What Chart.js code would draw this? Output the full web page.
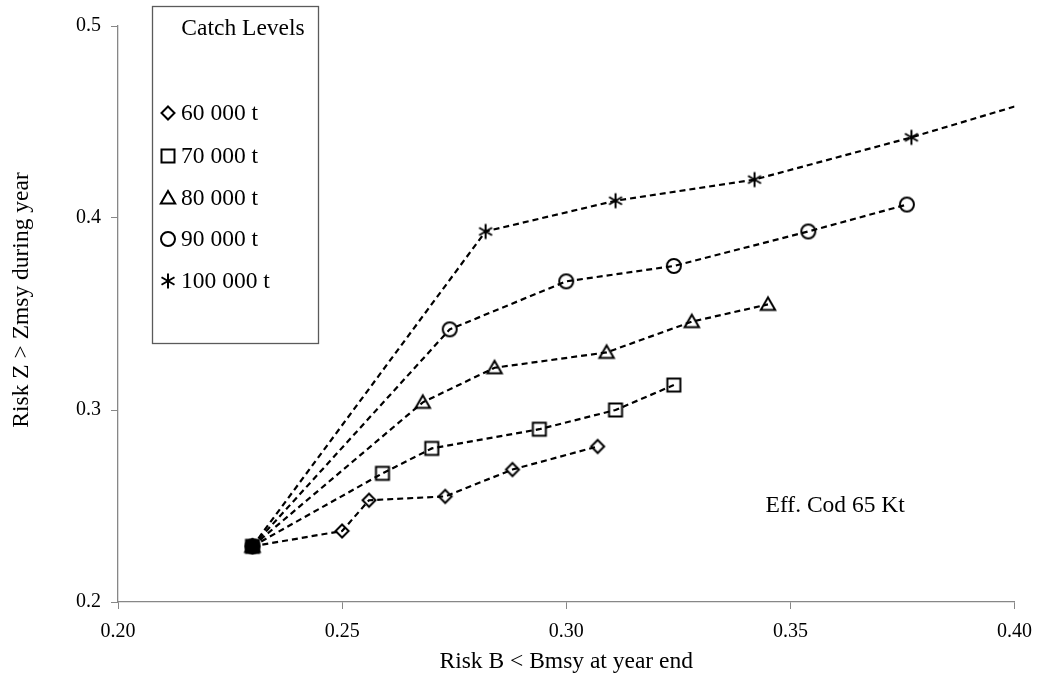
<!DOCTYPE html>
<html>
<head>
<meta charset="utf-8">
<script src="https://cdn.jsdelivr.net/npm/chart.js@4.4.0/dist/chart.umd.min.js"></script>
<style>
  html, body { margin: 0; padding: 0; background: #fff; }
  #wrap { width: 1043px; height: 677px; position: relative; }
</style>
</head>
<body>
<div id="wrap"><canvas id="chart" width="1043" height="677"></canvas></div>
<script>
// Catch levels and the risk pairs for each (x: risk B < Bmsy, y: risk Z > Zmsy)
const catchLevels = ['60 000 t', '70 000 t', '80 000 t', '90 000 t', '100 000 t'];

const bRisk60  = [0.230, 0.250, 0.256, 0.273, 0.288, 0.307];
const zRisk60  = [0.229, 0.237, 0.253, 0.255, 0.269, 0.281];

const bRisk70  = [0.230, 0.259, 0.270, 0.294, 0.311, 0.324];
const zRisk70  = [0.229, 0.267, 0.280, 0.290, 0.300, 0.313];

const bRisk80  = [0.230, 0.268, 0.284, 0.309, 0.328, 0.345];
const zRisk80  = [0.229, 0.304, 0.322, 0.330, 0.346, 0.355];

const bRisk90  = [0.230, 0.274, 0.300, 0.324, 0.354, 0.376];
const zRisk90  = [0.229, 0.342, 0.367, 0.375, 0.393, 0.407];

const bRisk100 = [0.230, 0.282, 0.311, 0.342, 0.377, 0.410];
const zRisk100 = [0.229, 0.393, 0.409, 0.420, 0.442, 0.465];

const xTickValues = [0.20, 0.25, 0.30, 0.35, 0.40];
const yTickValues = [0.2, 0.3, 0.4, 0.5];

const xTitle = 'Risk B < Bmsy at year end';
const yTitle = 'Risk Z > Zmsy during year';
const legendTitle = 'Catch Levels';
const noteText = 'Eff. Cod 65 Kt';
const noteAt = { x: 0.36, y: 0.25 };

const SERIF = '"Liberation Serif", "Times New Roman", serif';
const TEXT_FONT = '23.5px ' + SERIF;

// Marker glyphs rendered once on small canvases
function markerCanvas(kind) {
  const c = document.createElement('canvas');
  c.width = 20; c.height = 20;
  const g = c.getContext('2d');
  g.translate(10, 10);
  g.strokeStyle = '#000';
  g.fillStyle = '#000';
  g.lineWidth = 2;
  g.lineJoin = 'miter';
  g.beginPath();
  switch (kind) {
    case 'diamond':
      g.moveTo(0, -6.5); g.lineTo(6.5, 0); g.lineTo(0, 6.5); g.lineTo(-6.5, 0); g.closePath(); g.stroke();
      break;
    case 'square':
      g.rect(-6.5, -6.5, 13, 13); g.stroke();
      break;
    case 'solidSquare':
      g.rect(-7.5, -7.5, 15, 15); g.fill();
      break;
    case 'triangle':
      g.moveTo(0, -7); g.lineTo(7.2, 5.5); g.lineTo(-7.2, 5.5); g.closePath(); g.stroke();
      break;
    case 'circle':
      g.arc(0, 0, 7, 0, Math.PI * 2); g.stroke();
      break;
    case 'asterisk':
      [90, 30, 150].forEach(a => {
        const r = a * Math.PI / 180;
        g.moveTo(Math.cos(r) * 7.5, Math.sin(r) * 7.5);
        g.lineTo(-Math.cos(r) * 7.5, -Math.sin(r) * 7.5);
      });
      g.stroke();
      break;
  }
  return c;
}

const markers = {
  diamond: markerCanvas('diamond'),
  square: markerCanvas('square'),
  solidSquare: markerCanvas('solidSquare'),
  triangle: markerCanvas('triangle'),
  circle: markerCanvas('circle'),
  asterisk: markerCanvas('asterisk')
};
const seriesMarkers = [markers.diamond, markers.square, markers.triangle, markers.circle, markers.asterisk];

function pairs(xs, ys) {
  return xs.map((x, i) => ({ x: x, y: ys[i] }));
}

const seriesX = [bRisk60, bRisk70, bRisk80, bRisk90, bRisk100];
const seriesY = [zRisk60, zRisk70, zRisk80, zRisk90, zRisk100];

const datasets = catchLevels.map((label, i) => ({
  label: label,
  data: pairs(seriesX[i], seriesY[i]),
  showLine: true,
  borderColor: '#000',
  borderWidth: 2.2,
  borderDash: [6, 4],
  tension: 0,
  pointRadius: 6,
  pointHoverRadius: 6,
  // the shared starting point is shown as a solid square
  pointStyle: i === 1
    ? seriesX[i].map((_, j) => j === 0 ? markers.solidSquare : markers.square)
    : seriesMarkers[i],
  backgroundColor: 'transparent'
}));

// Boxed legend with title, the vertical axis title and the text note
const annotations = {
  id: 'annotations',
  afterDraw(chart) {
    const ctx = chart.ctx;
    const xs = chart.scales.x, ys = chart.scales.y;
    ctx.save();
    ctx.fillStyle = '#fff';
    ctx.fillRect(152, 6, 166, 337);
    ctx.strokeStyle = '#5a5a5a';
    ctx.lineWidth = 1.3;
    ctx.strokeRect(152.5, 6.5, 166, 337);

    ctx.fillStyle = '#000';
    ctx.font = TEXT_FONT;
    ctx.textBaseline = 'middle';
    ctx.textAlign = 'center';
    ctx.fillText(legendTitle, 243, 29);

    ctx.textAlign = 'left';
    const rowY = [113, 156, 198, 239, 281];
    catchLevels.forEach((label, i) => {
      const m = seriesMarkers[i];
      ctx.drawImage(m, 168 - m.width / 2, rowY[i] - m.height / 2);
      ctx.fillText(label, 181, rowY[i] + 1);
    });

    ctx.textAlign = 'center';
    ctx.fillText(noteText, xs.getPixelForValue(noteAt.x), ys.getPixelForValue(noteAt.y));

    ctx.translate(22, (ys.top + ys.bottom) / 2 - 14);
    ctx.rotate(-Math.PI / 2);
    ctx.fillText(yTitle, 0, 0);
    ctx.restore();
  }
};

const axisGray = '#878787';

new Chart(document.getElementById('chart'), {
  type: 'scatter',
  data: { datasets: datasets },
  options: {
    responsive: false,
    animation: false,
    events: [],
    layout: { padding: { top: 26, right: 28, left: 0, bottom: 0 } },
    plugins: {
      legend: { display: false },
      tooltip: { enabled: false }
    },
    scales: {
      x: {
        type: 'linear',
        min: xTickValues[0],
        max: xTickValues[xTickValues.length - 1],
        afterBuildTicks: s => { s.ticks = xTickValues.map(v => ({ value: v })); },
        afterFit: s => { s.height = 75; },
        ticks: {
          color: '#000',
          font: { family: SERIF, size: 20 },
          padding: 11,
          maxRotation: 0,
          callback: v => Number(v).toFixed(2)
        },
        grid: { display: true, drawOnChartArea: false, drawTicks: true, tickLength: 7, color: axisGray, lineWidth: 1 },
        border: { display: true, color: axisGray, width: 1.3 },
        title: {
          display: true,
          text: xTitle,
          color: '#000',
          font: { family: SERIF, size: 23.5 },
          padding: { top: 0, bottom: 1 }
        }
      },
      y: {
        type: 'linear',
        min: yTickValues[0],
        max: yTickValues[yTickValues.length - 1],
        afterBuildTicks: s => { s.ticks = yTickValues.map(v => ({ value: v })); },
        afterFit: s => { s.width = 118; },
        ticks: {
          color: '#000',
          font: { family: SERIF, size: 20 },
          padding: 10,
          callback: v => Number(v).toFixed(1)
        },
        grid: { display: true, drawOnChartArea: false, drawTicks: true, tickLength: 7, color: axisGray, lineWidth: 1 },
        border: { display: true, color: axisGray, width: 1.3 },
        title: { display: false }
      }
    }
  },
  plugins: [annotations]
});
</script>
</body>
</html>
